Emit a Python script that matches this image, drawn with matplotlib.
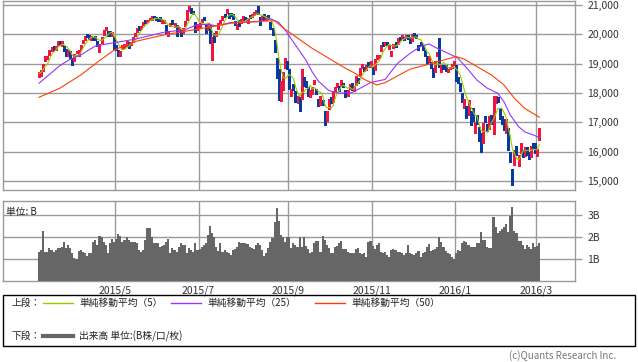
import numpy as np
import pandas as pd
import matplotlib
matplotlib.use("Agg")
import matplotlib.pyplot as plt
from matplotlib.lines import Line2D
from matplotlib.patches import Rectangle

plt.rcParams['font.family'] = ['Noto Sans CJK JP', 'DejaVu Sans']

# daily candles, 2015/3/10 - 2016/3/2 (one row per month)
op = [18560, 18600, 18760, 19130, 19170, 19300, 19460, 19580, 19500, 19650, 19780, 19640, 19560, 19500, 19280, 19440,
      19140, 19100, 19400, 19300, 19500, 19700, 19820, 19960, 19920, 19850, 19900, 19920, 19760, 19500, 19700, 20000, 20170, 20100, 20050, 20000, 19900,
      19600, 19420, 19300, 19500, 19580, 19650, 19700, 19680, 19750, 19950, 20080, 20250, 20200, 20330, 20450, 20450, 20500, 20560,
      20600, 20550, 20500, 20540, 20450, 20440, 20300, 20000, 20300, 20450, 20300, 20280, 20100, 20100, 20100, 20300, 20500, 20850, 20850, 20730, 20400, 20150,
      20300, 20450, 20570, 20300, 20150, 20320, 19250, 20000, 19950, 20200, 20450, 20500, 20660, 20750, 20720, 20700, 20650, 20400, 20250, 20450, 20400, 20550,
      20560, 20450, 20650, 20650, 20700, 20750, 20850, 20550, 20500, 20650, 20500, 20650, 20400, 20150, 19750, 19150, 18700, 17900, 18200, 18900, 19050,
      18800, 17950, 18200, 18000, 17700, 17800, 17800, 18500, 18300, 18150, 17950, 18000, 18350, 18100, 17750, 17650, 17700, 17400, 17100,
      17500, 17800, 17750, 18100, 18250, 18200, 18300, 18300, 18050, 17950, 18200, 18300, 18150, 18300, 18450, 18650, 18900, 18850, 18800, 19000, 18950,
      18850, 18800, 19200, 19250, 19450, 19700, 19650, 19700, 19550, 19300, 19550, 19700, 19700, 19900, 19900, 19880, 19900, 19950, 19850,
      19800, 20000, 19950, 19600, 19700, 19600, 19400, 19200, 19100, 18950, 18800, 18700, 19300, 19200, 18800, 18900, 18900, 18750, 18850, 18900, 18950,
      18818, 18400, 18300, 17900, 17500, 17500, 17300, 17350, 17500, 16850, 17100, 16800, 16550, 16300, 17150, 16900, 16800, 17200, 17000,
      17700, 17800, 17500, 17150, 17100, 16800, 16700, 15900, 15300, 15600, 16150, 15700, 16000, 16000, 15900, 16100, 15950, 15850, 16200, 16250,
      15950, 16400]
hi = [18720, 18780, 19000, 19270, 19260, 19450, 19560, 19590, 19590, 19780, 19780, 19780, 19600, 19500, 19450, 19440,
      19190, 19330, 19440, 19450, 19650, 19800, 19940, 20006, 19960, 19940, 19920, 19930, 19760, 19680, 19920, 20140, 20250, 20110, 20110, 20080, 19920,
      19620, 19450, 19420, 19640, 19660, 19780, 19720, 19750, 19900, 20030, 20200, 20280, 20280, 20420, 20480, 20490, 20560, 20610,
      20630, 20580, 20530, 20580, 20500, 20500, 20320, 20120, 20400, 20480, 20400, 20300, 20250, 20150, 20200, 20440, 20820, 20952, 20890, 20800, 20420, 20300,
      20400, 20530, 20580, 20340, 20400, 20330, 19900, 20050, 20100, 20400, 20480, 20610, 20680, 20850, 20730, 20720, 20680, 20450, 20360, 20470, 20530, 20630,
      20600, 20540, 20660, 20700, 20750, 20830, 20946, 20600, 20620, 20700, 20630, 20660, 20420, 20200, 19800, 19200, 18800, 18400, 18700, 19200, 19100,
      18800, 18150, 18300, 18050, 17900, 17850, 18800, 18550, 18400, 18200, 18100, 18200, 18450, 18150, 17800, 17900, 17750, 17400, 17400,
      17800, 17850, 18050, 18200, 18350, 18250, 18450, 18330, 18100, 18100, 18300, 18330, 18250, 18560, 18500, 18850, 18970, 18880, 18950, 19050, 19100,
      18900, 19150, 19300, 19300, 19650, 19720, 19720, 19720, 19650, 19420, 19660, 19720, 19870, 19920, 19960, 19920, 19960, 19980, 19900,
      20020, 20030, 19980, 19650, 19750, 19620, 19450, 19250, 19250, 19050, 18850, 19100, 19400, 19869, 18950, 18950, 18950, 18800, 18900, 19000, 19100,
      18951, 18530, 18350, 17980, 17800, 17550, 17750, 17400, 17500, 17000, 17250, 16850, 16650, 16980, 17200, 16950, 17200, 17250, 17900,
      17900, 17850, 17500, 17200, 17100, 17100, 16800, 16000, 15400, 16050, 16200, 15900, 16300, 16050, 16150, 16150, 16000, 16200, 16300, 16300,
      16100, 16800]
lo = [18540, 18580, 18740, 19100, 19150, 19280, 19420, 19450, 19460, 19640, 19660, 19600, 19440, 19250, 19260, 19200,
      18950, 19080, 19350, 19260, 19480, 19690, 19800, 19890, 19850, 19800, 19820, 19800, 19600, 19400, 19700, 19990, 20150, 19950, 19940, 19950, 19500,
      19470, 19260, 19250, 19490, 19520, 19600, 19540, 19650, 19740, 19930, 20060, 20150, 20180, 20320, 20380, 20420, 20480, 20500,
      20540, 20480, 20440, 20440, 20400, 20400, 20050, 19930, 20280, 20360, 20250, 19950, 20080, 19950, 20050, 20280, 20480, 20800, 20740, 20680, 20090, 20130,
      20250, 20430, 20470, 20050, 20140, 19700, 19115, 19740, 19940, 20190, 20400, 20490, 20600, 20730, 20570, 20620, 20520, 20300, 20180, 20270, 20380, 20500,
      20500, 20380, 20560, 20600, 20670, 20700, 20700, 20300, 20480, 20480, 20480, 20520, 20180, 19980, 19400, 18500, 17750, 17720, 18100, 18850, 18800,
      18150, 17900, 18100, 17700, 17650, 17400, 17780, 18250, 18200, 17900, 17850, 17950, 18300, 17950, 17550, 17600, 17600, 16900, 17050,
      17450, 17650, 17700, 18050, 18200, 18050, 18250, 18200, 17850, 17900, 18150, 18100, 18050, 18280, 18350, 18600, 18850, 18750, 18780, 18900, 18900,
      18650, 18780, 19150, 19200, 19430, 19600, 19620, 19620, 19500, 19250, 19520, 19580, 19680, 19820, 19860, 19800, 19880, 19850, 19700,
      19780, 19900, 19870, 19450, 19650, 19450, 19250, 19000, 19050, 18850, 18550, 18700, 19250, 18900, 18700, 18800, 18750, 18700, 18800, 18850, 18950,
      18394, 18330, 18070, 17700, 17500, 17150, 17250, 16900, 17050, 16650, 16950, 16350, 16000, 16280, 17000, 16700, 16780, 16950, 16600,
      17650, 17700, 17100, 16950, 16750, 16650, 16050, 15650, 14865, 15550, 15900, 15500, 15950, 15800, 15850, 15900, 15750, 15800, 16100, 15950,
      15850, 16400]
cl = [18665, 18723, 18991, 19254, 19246, 19437, 19544, 19476, 19560, 19754, 19713, 19746, 19471, 19286, 19411, 19206,
      19034, 19312, 19435, 19397, 19640, 19789, 19937, 19907, 19905, 19908, 19869, 19885, 19652, 19634, 19909, 20133, 20187, 20020, 19983, 20058, 19520,
      19531, 19292, 19379, 19620, 19624, 19764, 19570, 19732, 19890, 20026, 20196, 20202, 20264, 20413, 20437, 20472, 20551, 20563,
      20569, 20543, 20473, 20488, 20460, 20457, 20096, 20046, 20382, 20407, 20387, 19990, 20219, 19990, 20174, 20428, 20809, 20868, 20771, 20706, 20109, 20235,
      20329, 20522, 20539, 20112, 20376, 19737, 19855, 19779, 20089, 20385, 20463, 20600, 20650, 20841, 20593, 20683, 20544, 20350, 20328, 20302, 20522, 20585,
      20548, 20520, 20614, 20664, 20724, 20808, 20720, 20392, 20595, 20519, 20620, 20554, 20222, 20033, 19435, 18540, 17806, 18376, 18574, 19136, 18890,
      18165, 18095, 18182, 17792, 17860, 17427, 18770, 18299, 18264, 17965, 18026, 18171, 18432, 18070, 17571, 17880, 17645, 16930, 17388,
      17722, 17725, 18005, 18186, 18322, 18141, 18438, 18234, 17891, 18096, 18291, 18131, 18207, 18554, 18435, 18825, 18947, 18777, 18903, 18936, 19083,
      18683, 19116, 19265, 19265, 19642, 19671, 19697, 19691, 19596, 19393, 19649, 19649, 19859, 19879, 19924, 19847, 19944, 19883, 19747,
      20012, 19938, 19939, 19504, 19698, 19492, 19301, 19046, 19230, 18883, 18565, 19049, 19353, 18986, 18916, 18886, 18789, 18769, 18873, 18982, 19034,
      18450, 18374, 18191, 17767, 17698, 17219, 17715, 17240, 17147, 16956, 17048, 16416, 16017, 16958, 17110, 16708, 17163, 17041, 17518,
      17865, 17750, 17191, 17044, 16820, 17004, 16085, 15713, 14952, 16022, 16054, 15836, 16196, 15967, 16111, 16052, 15916, 16140, 16188, 16027,
      16085, 16747]

# volume (billion shares)
vol = [1.33, 1.41, 2.27, 1.33, 1.33, 1.48, 1.41, 1.33, 1.41, 1.48, 1.48, 1.56, 1.76, 1.48, 1.63, 1.48,
       1.26, 1.03, 0.99, 1.38, 1.41, 1.33, 1.26, 1.14, 1.26, 1.29, 1.79, 1.86, 1.63, 2.05, 2.02, 1.79, 1.63, 1.26, 1.71, 1.89, 1.79,
       1.89, 2.12, 2.05, 1.79, 1.86, 2.02, 1.86, 1.79, 1.79, 1.79, 1.71, 1.41, 1.33, 1.41, 1.86, 2.39, 2.39, 2.02,
       1.71, 1.74, 1.71, 1.56, 1.59, 1.63, 1.79, 1.89, 1.26, 1.48, 1.41, 1.33, 1.56, 1.74, 1.63, 1.63, 1.29, 1.48, 1.41, 1.33, 1.71, 1.41,
       1.44, 1.56, 1.63, 1.74, 2.09, 2.50, 2.17, 1.98, 1.56, 1.38, 1.71, 1.33, 1.41, 1.33, 1.26, 1.18, 1.41, 1.44, 1.56, 1.79, 1.74, 1.71,
       1.71, 1.67, 1.56, 1.48, 1.44, 1.63, 1.71, 1.63, 1.41, 1.14, 1.26, 1.48, 1.79, 1.94, 2.70, 3.30, 2.75, 2.10, 2.02, 1.79, 2.02,
       1.99, 1.48, 1.71, 1.63, 1.56, 1.99, 1.56, 1.99, 1.60, 1.44, 1.29, 1.33, 1.71, 1.83, 1.83, 1.33, 2.05, 1.86, 1.63,
       1.48, 1.29, 1.26, 1.56, 1.59, 1.71, 1.83, 1.44, 1.44, 1.33, 1.26, 1.26, 1.26, 1.44, 1.48, 1.26, 1.23, 1.26, 1.11, 1.79, 1.83,
       1.59, 1.44, 1.63, 1.71, 1.33, 1.29, 1.33, 1.18, 1.08, 1.41, 1.44, 1.41, 1.33, 1.33, 1.26, 1.18, 1.26, 1.63, 1.29,
       1.23, 1.18, 1.26, 1.38, 1.08, 1.29, 1.33, 1.56, 1.67, 1.38, 1.41, 1.44, 1.56, 2.02, 1.79, 1.56, 1.38, 1.29, 1.23, 1.11, 0.99,
       1.26, 1.41, 1.38, 1.71, 1.83, 1.79, 1.63, 1.56, 1.56, 1.53, 1.74, 1.71, 2.24, 1.86, 1.86, 1.56, 1.48, 1.48, 2.89,
       2.47, 2.17, 2.29, 2.35, 2.47, 2.59, 2.24, 2.95, 3.35, 2.29, 2.17, 1.83, 1.83, 1.63, 1.44, 1.63, 1.56, 1.44, 1.71, 1.56,
       1.59, 1.74]

# moving averages (trading-day index, value)
ma25_i = [0, 10, 15, 20, 27, 36, 46, 60, 70, 76, 82, 85, 92, 101, 106, 111, 115, 118, 123, 128, 131, 134, 139, 144,
          150, 153, 159, 166, 172, 178, 183, 187, 191, 198, 201, 206, 210, 215, 220, 223, 226, 230, 233, 238, 240]
ma25_v = [18330, 18930, 19150, 19290, 19600, 19710, 19830, 20070, 20150, 20330, 20330, 20280, 20400, 20420, 20430, 20530,
          20400, 20150, 19630, 19120, 18720, 18400, 18080, 17990, 18010, 18120, 18350, 18460, 19010, 19350, 19580, 19670,
          19520, 19290, 19180, 18780, 18440, 18160, 17990, 17700, 17250, 16850, 16670, 16540, 16480]
ma50_i = [0, 10, 20, 29, 36, 46, 60, 76, 92, 106, 113, 118, 123, 131, 139, 147, 152, 156, 162, 166, 172, 178, 187,
          193, 200, 204, 210, 217, 223, 228, 233, 240]
ma50_v = [17850, 18160, 18610, 19100, 19460, 19750, 19980, 20170, 20375, 20440, 20460, 20170, 19920, 19520, 19180,
          18840, 18650, 18460, 18270, 18350, 18580, 18810, 18980, 19100, 19240, 19150, 18900, 18610, 18270, 17820, 17470, 17170]

month_first = [37, 77, 120, 160, 200, 239]
month_labels = ['2015/5', '2015/7', '2015/9', '2015/11', '2016/1', '2016/3']
price_ticks = [15000, 16000, 17000, 18000, 19000, 20000, 21000]
vol_ticks = [1, 2, 3]

up_col = '#f2153f'
dn_col = '#08399c'
grid_col = '#9a9a9a'
txt_col = '#333333'

W, H = 638, 362
fig = plt.figure(figsize=(W / 100, H / 100), dpi=100)
ax = fig.add_axes([3 / W, (H - 190) / H, 572 / W, 189.5 / H])
axv = fig.add_axes([3 / W, (H - 281) / H, 572 / W, 80 / H])

x = np.arange(len(cl))
op_a, hi_a, lo_a, cl_a = map(np.array, (op, hi, lo, cl))
colors = np.where(cl_a >= op_a, up_col, dn_col)

# candles
ax.vlines(x, lo_a, hi_a, colors=colors, linewidth=0.75, zorder=3, antialiased=False)
body = np.maximum(np.abs(cl_a - op_a), 25)
ax.bar(x, body, bottom=np.minimum(op_a, cl_a), width=0.95, color=colors, linewidth=0,
       zorder=3, antialiased=False)

ma5 = pd.Series(cl).rolling(5, min_periods=1).mean()
ax.plot(x, ma5, color='#99cc00', linewidth=0.8, zorder=4)
ax.plot(ma25_i, ma25_v, color='#9933ff', linewidth=0.8, zorder=4)
ax.plot(ma50_i, ma50_v, color='#ff4000', linewidth=0.8, zorder=4)

xl = ((3 - 39) / 2.085, (575 - 39) / 2.085)
grid_x = np.array(month_first) - 0.5
for a in (ax, axv):
    a.set_xlim(*xl)
    a.set_xticks(grid_x)
    a.grid(True, color=grid_col, linewidth=1.0, zorder=0)
    a.set_axisbelow(True)
    for s in a.spines.values():
        s.set_color(grid_col)
        s.set_linewidth(1.0)
    a.yaxis.tick_right()
    a.tick_params(axis='y', colors=grid_col, length=5, width=1.0, labelcolor=txt_col,
                  labelsize=7.5, pad=4)

ax.set_ylim(14690, 21150)
ax.set_yticks(price_ticks)
ax.set_yticklabels([f'{v:,}' for v in price_ticks])
ax.tick_params(axis='x', length=0, labelbottom=False)

axv.bar(x, vol, width=1.0, color='#666666', linewidth=0, zorder=3)
axv.set_ylim(0, 3.64)
axv.set_yticks(vol_ticks)
axv.set_yticklabels([f'{v}B' for v in vol_ticks])
axv.set_xticklabels(month_labels)
axv.tick_params(axis='x', length=0, labelsize=7.5, labelcolor=txt_col, pad=3)
axv.text(0.006, 0.92, '単位: B', transform=axv.transAxes, fontsize=7, color='#222222', va='top')

# legend box
fig.add_artist(Rectangle((3 / W, (H - 346) / H), 632 / W, 51 / H, transform=fig.transFigure,
                         fill=False, edgecolor='black', linewidth=1.0))
ly1 = (H - 303) / H
ly2 = (H - 336) / H
fig.text(12 / W, ly1, '上段：', fontsize=7, va='center', color='#222222')
fig.text(12 / W, ly2, '下段：', fontsize=7, va='center', color='#222222')
items = [(43, '#99cc00', '単純移動平均（5）'), (171, '#9933ff', '単純移動平均（25）'),
         (315, '#ff4000', '単純移動平均（50）')]
for x0, c, t in items:
    fig.add_artist(Line2D([x0 / W, (x0 + 30) / W], [ly1, ly1], color=c, linewidth=1.0))
    fig.text((x0 + 36) / W, ly1, t, fontsize=7, va='center', color='#222222')
fig.add_artist(Line2D([43 / W, 73 / W], [ly2, ly2], color='#666666', linewidth=3))
fig.text(79 / W, ly2, '出来高 単位:(B株/口/枚)', fontsize=7, va='center', color='#222222')

fig.text(616 / W, (H - 356) / H, '(c)Quants Research Inc.', fontsize=7, ha='right', va='center',
         color='#777777')

fig.savefig('out.png', dpi=100)
